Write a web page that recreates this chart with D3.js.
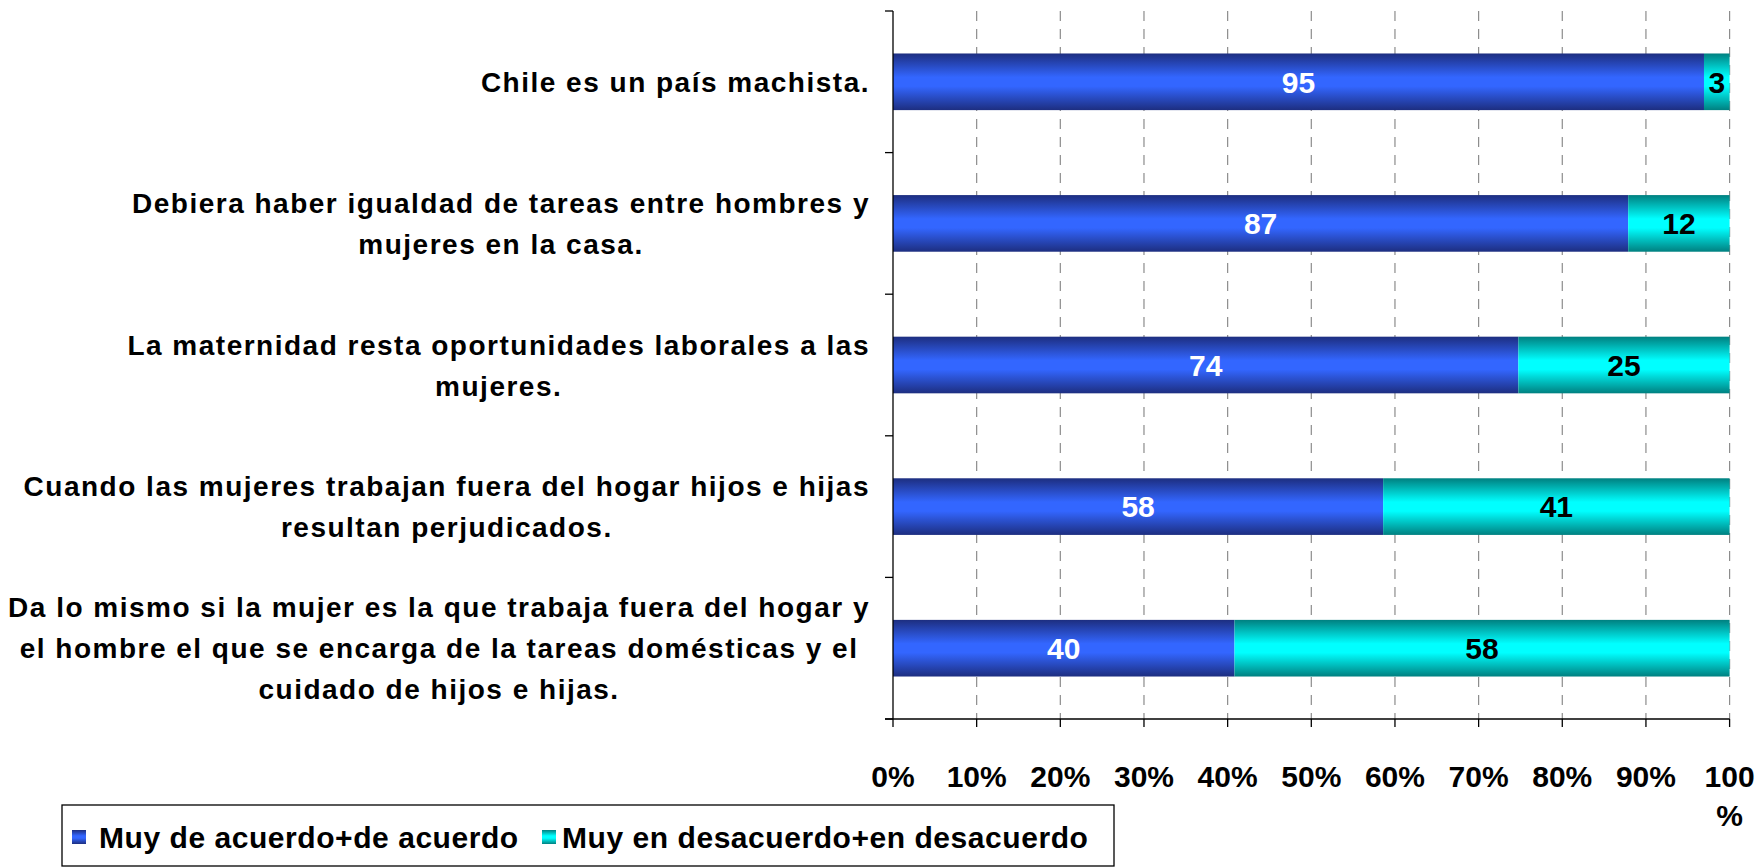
<!DOCTYPE html>
<html>
<head>
<meta charset="utf-8">
<script src="https://cdn.jsdelivr.net/npm/d3@7"></script>
<style>
  html, body { margin: 0; padding: 0; background: #ffffff; }
  svg { display: block; }
  text { font-family: "Liberation Sans", Arial, sans-serif; font-weight: bold; }
</style>
</head>
<body>
<svg id="chart" width="1761" height="867"></svg>
<script>
// Statements (each entry is the list of wrapped lines of the label)
const categories = [
  ["Chile es un país machista."],
  ["Debiera haber igualdad de tareas entre hombres y", "mujeres en la casa."],
  ["La maternidad resta oportunidades laborales a las", "mujeres."],
  ["Cuando las mujeres trabajan fuera del hogar hijos e hijas", "resultan perjudicados."],
  ["Da lo mismo si la mujer es la que trabaja fuera del hogar y", "el hombre el que se encarga de la tareas domésticas y el", "cuidado de hijos e hijas."]
];
const seriesNames = ["Muy de acuerdo+de acuerdo", "Muy en desacuerdo+en desacuerdo"];
const agree    = [95, 87, 74, 58, 40];
const disagree = [3, 12, 25, 41, 58];
const tickValues = [0, 0.1, 0.2, 0.3, 0.4, 0.5, 0.6, 0.7, 0.8, 0.9, 1.0];
const tickLabels = [["0%"], ["10%"], ["20%"], ["30%"], ["40%"], ["50%"], ["60%"], ["70%"], ["80%"], ["90%"], ["100", "%"]];

const svg = d3.select("#chart");

const plot = { left: 893, right: 1729.6, top: 11, bottom: 719 };
const fontSize = 30;

// gradients for the two series (dark edges, bright middle)
const defs = svg.append("defs");
const grads = [
  { id: "gAgree", edge: "#1d2e80", mid: "#3366ff" },
  { id: "gDis", edge: "#008080", mid: "#00ffff" }
];
grads.forEach(g => {
  const lg = defs.append("linearGradient").attr("id", g.id)
    .attr("x1", 0).attr("y1", 0).attr("x2", 0).attr("y2", 1);
  lg.append("stop").attr("offset", "0%").attr("stop-color", g.edge);
  lg.append("stop").attr("offset", "42%").attr("stop-color", g.mid);
  lg.append("stop").attr("offset", "58%").attr("stop-color", g.mid);
  lg.append("stop").attr("offset", "100%").attr("stop-color", g.edge);
});

const idx = d3.range(categories.length);
const y = d3.scaleBand().domain(idx).range([plot.top, plot.bottom])
  .paddingInner(0.6).paddingOuter(0.3);
const x = d3.scaleLinear().domain([0, 1]).range([plot.left, plot.right]);

// dashed vertical gridlines
svg.append("g").selectAll("line")
  .data(tickValues.filter(v => v > 0))
  .join("line")
  .attr("x1", d => x(d)).attr("x2", d => x(d))
  .attr("y1", plot.top).attr("y2", plot.bottom)
  .attr("stroke", "#8c8c8c").attr("stroke-width", 1.2)
  .attr("stroke-dasharray", "10,8");

// stacked (100%) data
const rows = idx.map(i => {
  const tot = agree[i] + disagree[i];
  return { i, a: agree[i], d: disagree[i], pa: agree[i] / tot, pd: disagree[i] / tot };
});

const bars = svg.append("g");
rows.forEach(r => {
  bars.append("rect")
    .attr("x", x(0)).attr("y", y(r.i))
    .attr("width", x(r.pa) - x(0)).attr("height", y.bandwidth())
    .attr("fill", "url(#gAgree)");
  bars.append("rect")
    .attr("x", x(r.pa)).attr("y", y(r.i))
    .attr("width", x(r.pa + r.pd) - x(r.pa)).attr("height", y.bandwidth())
    .attr("fill", "url(#gDis)");
  const cy = y(r.i) + y.bandwidth() / 2;
  bars.append("text")
    .attr("x", (x(0) + x(r.pa)) / 2).attr("y", cy)
    .attr("dy", "0.36em").attr("text-anchor", "middle")
    .attr("font-size", fontSize).attr("fill", "#ffffff")
    .text(r.a);
  bars.append("text")
    .attr("x", (x(r.pa) + x(r.pa + r.pd)) / 2).attr("y", cy)
    .attr("dy", "0.36em").attr("text-anchor", "middle")
    .attr("font-size", fontSize).attr("fill", "#000000")
    .text(r.d);
});

// y axis line and category boundary ticks
const axes = svg.append("g").attr("stroke", "#000").attr("stroke-width", 1.3);
axes.append("line").attr("x1", plot.left).attr("x2", plot.left)
  .attr("y1", plot.top).attr("y2", plot.bottom);
const boundaryYs = [plot.top].concat(idx.slice(1).map(i => (y(i - 1) + y.bandwidth() + y(i)) / 2), [plot.bottom]);
axes.selectAll("line.yt").data(boundaryYs).join("line").attr("class", "yt")
  .attr("x1", plot.left - 8).attr("x2", plot.left)
  .attr("y1", d => d).attr("y2", d => d);

// x axis line and ticks
axes.append("line").attr("x1", plot.left - 8).attr("x2", plot.right)
  .attr("y1", plot.bottom).attr("y2", plot.bottom);
axes.selectAll("line.xt").data(tickValues).join("line").attr("class", "xt")
  .attr("x1", d => x(d)).attr("x2", d => x(d))
  .attr("y1", plot.bottom).attr("y2", plot.bottom + 8);

// x tick labels
const xl = svg.append("g");
tickValues.forEach((v, k) => {
  tickLabels[k].forEach((line, j) => {
    xl.append("text")
      .attr("x", x(v)).attr("y", 787 + j * 39)
      .attr("text-anchor", "middle").attr("font-size", fontSize)
      .attr("fill", "#000").text(line);
  });
});

// category labels: block right-aligned, lines centered within the block
const labelRight = 870;
const lineH = 41;
const lg = svg.append("g");
categories.forEach((lines, i) => {
  const cy = y(i) + y.bandwidth() / 2;
  const g = lg.append("g");
  const ts = lines.map((line, j) =>
    g.append("text")
      .attr("y", cy + (j - (lines.length - 1) / 2) * lineH)
      .attr("dy", "0.36em")
      .attr("text-anchor", "middle").attr("font-size", 28)
      .attr("letter-spacing", 1.5)
      .attr("fill", "#000").text(line));
  const maxW = d3.max(ts, t => t.node().getBBox().width);
  ts.forEach(t => t.attr("x", labelRight - maxW / 2));
});

// legend
const leg = svg.append("g");
leg.append("rect").attr("x", 62).attr("y", 805).attr("width", 1052).attr("height", 61)
  .attr("fill", "#fff").attr("stroke", "#000").attr("stroke-width", 1.3);
const legItems = [
  { name: seriesNames[0], fill: "url(#gAgree)", sx: 72, tx: 99 },
  { name: seriesNames[1], fill: "url(#gDis)", sx: 542, tx: 562 }
];
legItems.forEach(it => {
  leg.append("rect").attr("x", it.sx).attr("y", 830).attr("width", 14).attr("height", 14)
    .attr("fill", it.fill);
  leg.append("text").attr("x", it.tx).attr("y", 837).attr("dy", "0.36em")
    .attr("font-size", fontSize).attr("letter-spacing", 0.55)
    .attr("fill", "#000").text(it.name);
});
</script>
</body>
</html>
